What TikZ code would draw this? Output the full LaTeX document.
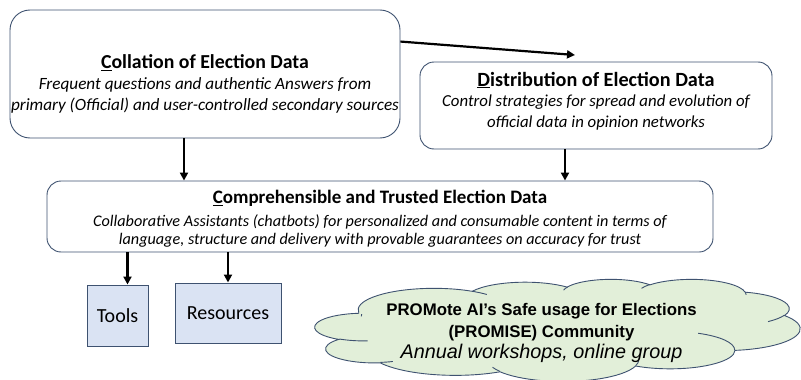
\documentclass[tikz,border=0pt]{standalone}
\usepackage{fontspec}
\setmainfont{Carlito}
\newfontfamily\arialfont{Liberation Sans}
\usetikzlibrary{arrows.meta}
\definecolor{edgeblue}{RGB}{62,82,112}
\definecolor{boxfill}{RGB}{218,227,243}
\definecolor{cloudfill}{RGB}{226,239,217}
\tikzset{
  panel/.style={draw=edgeblue, line width=0.9pt, rounded corners=#1, fill=white, inner sep=0pt},
  panel/.default=16pt,
  itembox/.style={draw=edgeblue, line width=1pt, fill=boxfill, inner sep=0pt,
    font=\fontsize{20}{24}\selectfont},
  flow/.style={line width=2.2pt, -{Triangle[length=8pt,width=8pt]}},
  label/.style={inner sep=0pt, align=center},
  title/.style={label, font=\bfseries\fontsize{#1}{24}\selectfont},
  blurb/.style={label, font=\itshape\fontsize{#1}{21}\selectfont},
}
% elliptic arc given by its visual start angle and sweep (degrees) and its two radii
\newcommand{\cloudarc}[4]{arc[x radius=#3, y radius=#4,
  start angle={atan2(#3*sin(#1),#4*cos(#1))},
  delta angle={mod(atan2(#3*sin(#1+#2),#4*cos(#1+#2))-atan2(#3*sin(#1),#4*cos(#1))+720,360)}]}
\begin{document}
\begin{tikzpicture}[x=1pt,y=-1pt]
\useasboundingbox (0,0) rectangle (801,380);

% the three data stages
\node[panel=20pt, minimum width=390pt, minimum height=128pt] (coll) at (205,74) {};
\node[title=19.8] (colltitle) at (205,63) {\underline{C}ollation of Election Data};
\node[blurb=17.2] (colltext) at (205,95.5) {Frequent questions and authentic Answers from\\primary (Official) and user-controlled secondary sources};

\node[panel=14pt, minimum width=352pt, minimum height=87pt] (dist) at (596,105.5) {};
\node[title=20.2] (disttitle) at (596,80) {\underline{D}istribution of Election Data};
\node[blurb=16.8] (disttext) at (596,112.5) {Control strategies for spread and evolution of\\official data in opinion networks};

\node[panel=14pt, minimum width=666pt, minimum height=71pt] (comp) at (380,216.5) {};
\node[title=19] (comptitle) at (380,198) {\underline{C}omprehensible and Trusted Election Data};
\node[label, font=\itshape\fontsize{16.2}{18.5}\selectfont] (comptext) at (380,231) {Collaborative Assistants (chatbots) for personalized and consumable content in terms of\\language, structure and delivery with provable guarantees on accuracy for trust};

% outputs
\node[itembox, minimum width=61pt, minimum height=61pt] (tools) at (117.5,315.5) {Tools};
\node[itembox, minimum width=106pt, minimum height=60pt] (res) at (228,313) {Resources};

% community cloud, drawn in a 4320 x 4320 frame
\begin{scope}[shift={(315,279)}, x=0.112269pt, y=-0.02363pt, line width=0.9pt, draw=edgeblue]
  \filldraw[fill=cloudfill] (390,1437)
    \cloudarc{-190.4875}{123.7805}{675.3}{919.0}
    \cloudarc{-144.1024}{89.9452}{533.3}{726.7}
    \cloudarc{-145.8079}{99.7230}{436.5}{594.5}
    \cloudarc{-130.9861}{117.2417}{485.7}{659.5}
    \cloudarc{-78.7089}{109.0269}{533.3}{727.3}
    \cloudarc{-46.2673}{130.2690}{677.5}{922.0}
    \cloudarc{0.6250}{114.0333}{578.5}{786.7}
    \cloudarc{22.4516}{115.1726}{675.2}{921.5}
    \cloudarc{66.2426}{75.7110}{772.0}{1054.3}
    \cloudarc{-274.9421}{146.7356}{436.0}{591.8}
    \cloudarc{-246.8285}{152.5189}{434.5}{594.5}
    -- cycle;
  % inner folds of the cloud
  \draw (469.3,2617.7) \cloudarc{86.7420}{26.4295}{434.5}{594.5}
        (692.8,3489.9) \cloudarc{73.6105}{11.4475}{436.0}{591.8}
        (1647.8,3909.0) \cloudarc{137.6242}{14.0811}{675.2}{921.5}
        (2882.7,3475.1) \cloudarc{6.4533}{15.9984}{675.2}{921.5}
        (3412.9,2295.4) \cloudarc{-70.2924}{70.9174}{578.5}{786.7}
        (4179.8,1535.4) \cloudarc{30.3180}{27.7515}{533.3}{727.3}
        (3832.4,542.6) \cloudarc{-13.7443}{14.8589}{485.7}{659.5}
        (2907.8,395.2) \cloudarc{-149.1815}{18.1954}{485.7}{659.5}
        (2214.1,472.0) \cloudarc{-163.4943}{17.6864}{436.5}{594.5}
        (1400.0,519.2) \cloudarc{-66.7070}{12.3194}{675.3}{919.0}
        (412.7,1578.9) \cloudarc{180}{7.8330}{675.3}{919.0};
\end{scope}
\node[label, font=\arialfont\fontsize{16.8}{21.3}\selectfont] (cloudtext) at (541.5,333)
  {{\bfseries PROMote AI’s Safe usage for Elections}\\
   {\bfseries (PROMISE) Community}\\
   {\itshape\fontsize{19.8}{21.3}\selectfont Annual workshops, online group}};

% connectors
\coordinate (disttip) at (575,55);
\draw[flow] ([yshift=-32pt]coll.north east) -- (disttip);
\draw[flow] ([xshift=-21pt]coll.south) -- ([xshift=-21pt]coll.south |- comp.north);
\draw[flow] ([xshift=-31pt]dist.south) -- ([xshift=-31pt]dist.south |- comp.north);
\draw[flow] ([xshift=10pt]tools.north |- comp.south) -- ([xshift=10pt]tools.north);
\draw[flow] (res.north |- comp.south) -- (res.north);
\end{tikzpicture}
\end{document}
